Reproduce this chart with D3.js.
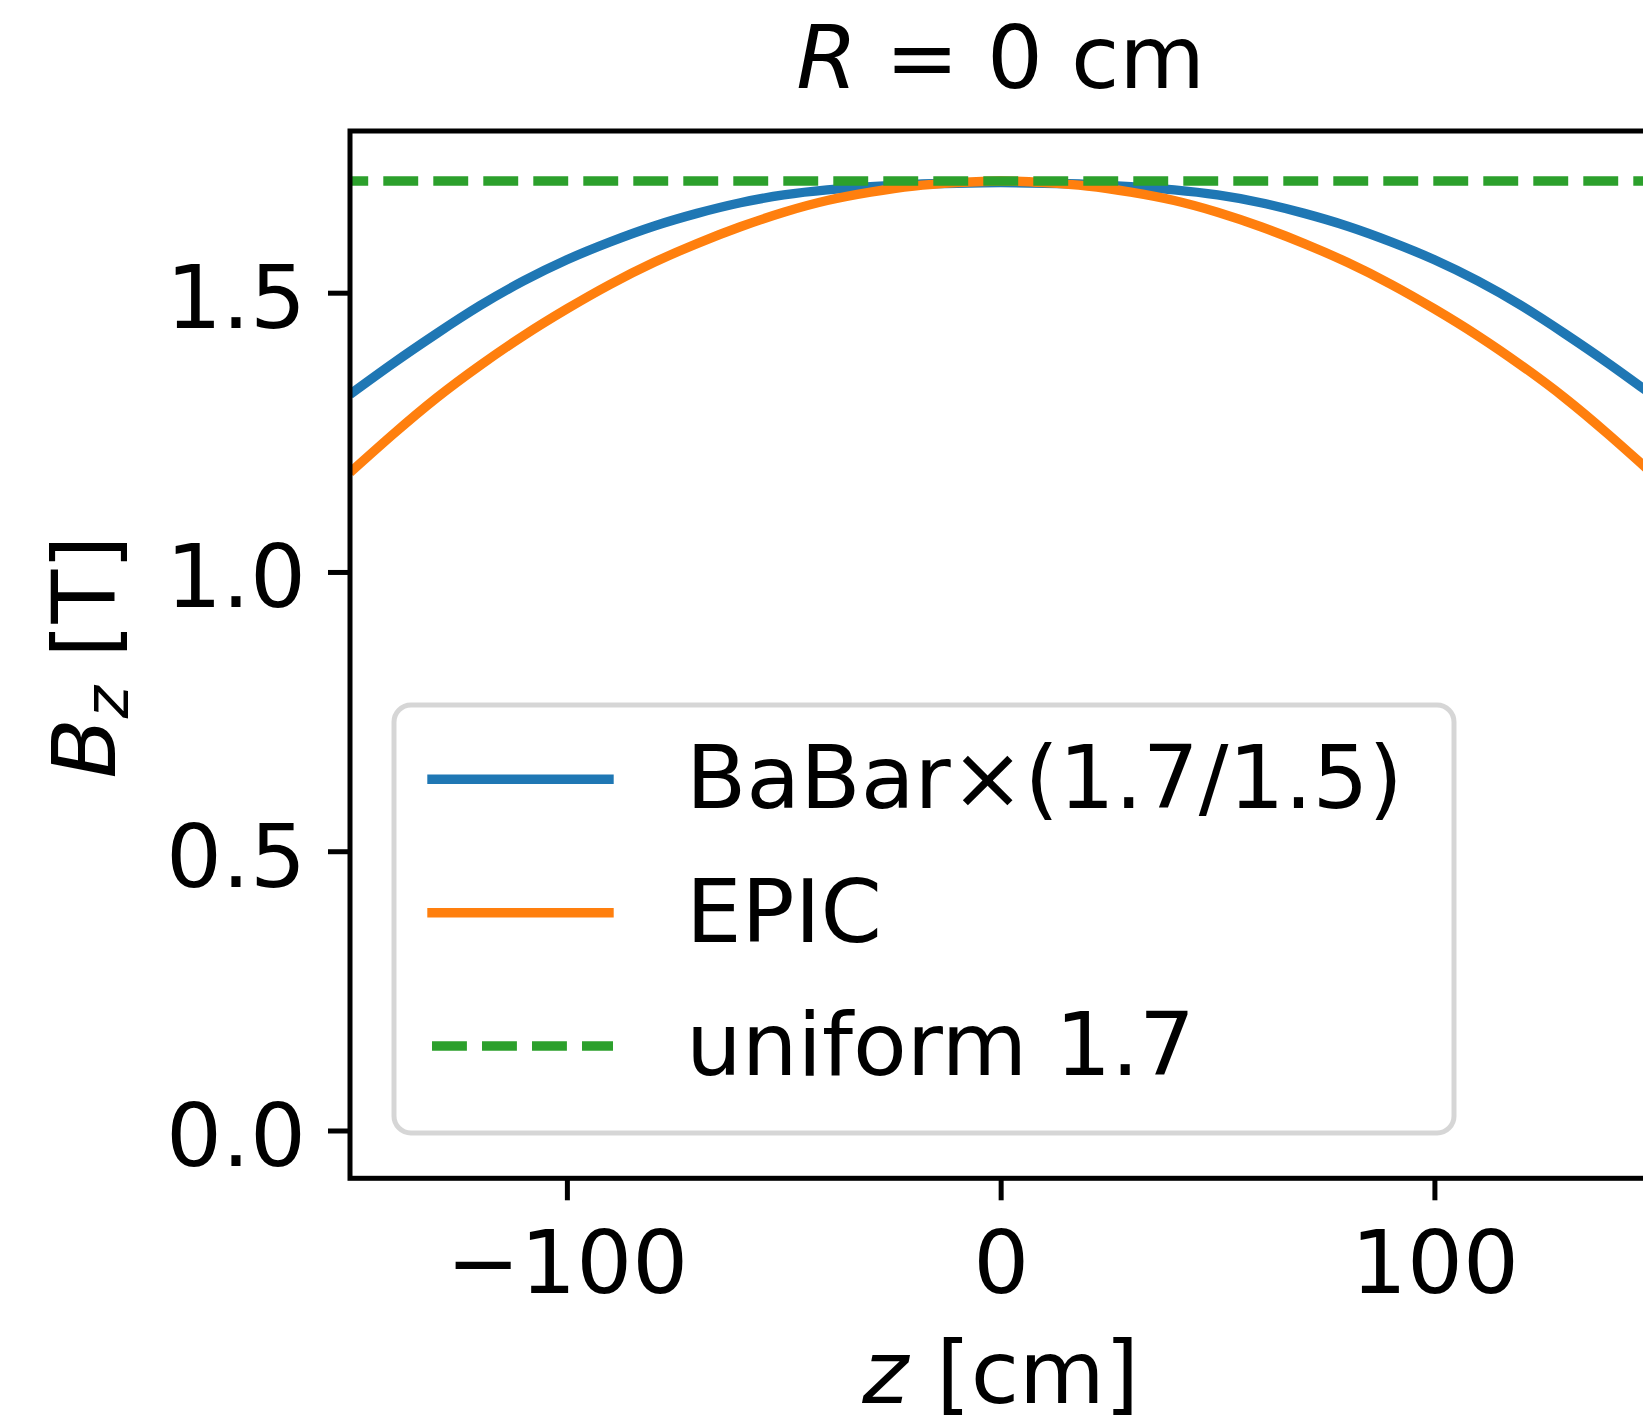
<!DOCTYPE html>
<html>
<head>
<meta charset="utf-8">
<script src="https://cdn.jsdelivr.net/npm/d3@7"></script>
<style>
  html, body { margin: 0; padding: 0; background: #ffffff; }
  svg { display: block; font-family: "DejaVu Sans", sans-serif; }
</style>
</head>
<body>
<svg id="chart" width="1643" height="1427"></svg>
<script>
// ---- data ----
const zValues = [-150,-140,-130,-120,-110,-100,-90,-80,-70,-60,-50,-40,-30,-20,-10,0,10,20,30,40,50,60,70,80,90,100,110,120,130,140,150];
const babarValues = [1.318,1.374,1.427,1.477,1.521,1.559,1.591,1.619,1.642,1.661,1.675,1.684,1.690,1.694,1.696,1.697,1.696,1.694,1.690,1.684,1.675,1.661,1.642,1.619,1.591,1.559,1.521,1.477,1.427,1.374,1.318];
const epicValues = [1.178,1.247,1.312,1.370,1.423,1.471,1.515,1.554,1.588,1.618,1.644,1.665,1.680,1.691,1.697,1.700,1.697,1.691,1.680,1.665,1.644,1.618,1.588,1.554,1.515,1.471,1.423,1.370,1.312,1.247,1.178];
const uniformValue = 1.7;
const seriesNames = ["BaBar\u00d7(1.7/1.5)", "EPIC", "uniform 1.7"];
const xTicks = [-100, 0, 100];
const yTicks = [0.0, 0.5, 1.0, 1.5];
const xDomain = [-150, 150];
const yDomain = [-0.0856, 1.7895];

(function () {
// ---- layout ----
const svg = d3.select("#chart");
const pLeft = 350, pRight = 1651.3, pTop = 131, pBottom = 1178.3;
const fs = 88;
const colors = ["#1f77b4", "#ff7f0e", "#2ca02c"];
const lw = 9.4;

const x = d3.scaleLinear().domain(xDomain).range([pLeft, pRight]);
const y = d3.scaleLinear().domain(yDomain).range([pBottom, pTop]);

svg.append("defs").append("clipPath").attr("id", "plotclip")
  .append("rect").attr("x", pLeft).attr("y", pTop)
  .attr("width", pRight - pLeft).attr("height", pBottom - pTop);

const plot = svg.append("g").attr("clip-path", "url(#plotclip)");

const line = d3.line().x(d => x(d[0])).y(d => y(d[1])).curve(d3.curveNatural);

plot.append("path")
  .datum(zValues.map((z, i) => [z, babarValues[i]]))
  .attr("d", line).attr("fill", "none")
  .attr("stroke", colors[0]).attr("stroke-width", lw);

plot.append("path")
  .datum(zValues.map((z, i) => [z, epicValues[i]]))
  .attr("d", line).attr("fill", "none")
  .attr("stroke", colors[1]).attr("stroke-width", lw);

plot.append("path")
  .datum([[xDomain[0], uniformValue], [xDomain[1], uniformValue]])
  .attr("d", d3.line().x(d => x(d[0])).y(d => y(d[1])))
  .attr("fill", "none")
  .attr("stroke", colors[2]).attr("stroke-width", lw)
  .attr("stroke-dasharray", "34.9,15.1")
  .attr("stroke-dashoffset", 16.7);

// ---- axes ----
const yAxis = d3.axisLeft(y).tickValues(yTicks).tickSize(22).tickFormat(d3.format(".1f"));
const gy = svg.append("g").attr("transform", `translate(${pLeft},0)`).call(yAxis);
gy.select(".domain").remove();
gy.selectAll(".tick line").attr("stroke", "#000").attr("stroke-width", 5);
gy.selectAll(".tick text")
  .attr("x", -44).attr("dy", null).attr("y", 35)
  .attr("fill", "#000").style("font-size", fs + "px")
  .style("font-family", "'DejaVu Sans', sans-serif")
  .attr("text-anchor", "end");

const xAxis = d3.axisBottom(x).tickValues(xTicks).tickSize(22).tickFormat(d3.format("d"));
const gx = svg.append("g").attr("transform", `translate(0,${pBottom})`).call(xAxis);
gx.select(".domain").remove();
gx.selectAll(".tick line").attr("stroke", "#000").attr("stroke-width", 5);
gx.selectAll(".tick text")
  .attr("y", 1293 - pBottom).attr("dy", null)
  .attr("fill", "#000").style("font-size", fs + "px")
  .style("font-family", "'DejaVu Sans', sans-serif")
  .attr("text-anchor", "middle");

// frame (spines)
svg.append("rect")
  .attr("x", pLeft).attr("y", pTop)
  .attr("width", pRight - pLeft).attr("height", pBottom - pTop)
  .attr("fill", "none").attr("stroke", "#000").attr("stroke-width", 5);

// ---- title ----
const title = svg.append("text")
  .attr("x", (pLeft + pRight) / 2).attr("y", 88)
  .attr("text-anchor", "middle").style("font-size", fs + "px").attr("fill", "#000");
title.append("tspan").attr("font-style", "italic").text("R");
title.append("tspan").text(" = 0 cm");

// ---- axis labels ----
const xl = svg.append("text")
  .attr("x", (pLeft + pRight) / 2).attr("y", 1403)
  .attr("text-anchor", "middle").style("font-size", fs + "px").attr("fill", "#000");
xl.append("tspan").attr("font-style", "italic").text("z");
xl.append("tspan").text(" [cm]");

const yl = svg.append("text")
  .attr("transform", `translate(115,657) rotate(-90)`)
  .attr("text-anchor", "middle").style("font-size", fs + "px").attr("fill", "#000");
yl.append("tspan").attr("font-style", "italic").text("B");
yl.append("tspan").attr("font-style", "italic").attr("dy", 13).style("font-size", (fs * 0.7) + "px").text("z");
yl.append("tspan").attr("dy", -13).text(" [T]");

// ---- legend ----
const lg = svg.append("g");
lg.append("rect")
  .attr("x", 394).attr("y", 705).attr("width", 1454 - 394).attr("height", 1133 - 705)
  .attr("rx", 17).attr("ry", 17)
  .attr("fill", "#fff").attr("fill-opacity", 0.8)
  .attr("stroke", "#cccccc").attr("stroke-opacity", 0.8).attr("stroke-width", 5);

const rowY = [779.3, 912.7, 1046];
seriesNames.forEach((name, i) => {
  const l = lg.append("line")
    .attr("x1", 432).attr("x2", i === 2 ? 613 : 609)
    .attr("y1", rowY[i]).attr("y2", rowY[i])
    .attr("stroke", colors[i]).attr("stroke-width", lw)
    .attr("stroke-linecap", i === 2 ? "butt" : "square");
  if (i === 2) l.attr("stroke-dasharray", "34.9,15.1");
  lg.append("text")
    .attr("x", 686).attr("y", rowY[i] + 29)
    .style("font-size", fs + "px").attr("fill", "#000")
    .text(name);
});
})();
</script>
</body>
</html>
